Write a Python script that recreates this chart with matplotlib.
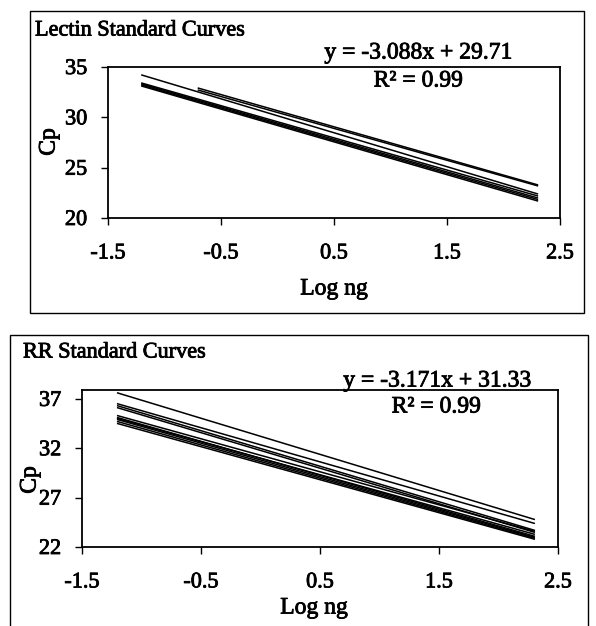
import matplotlib.pyplot as plt
import matplotlib.patheffects as pe
from matplotlib.patches import Rectangle

plt.rcParams["font.family"] = ["Liberation Serif", "DejaVu Serif"]

W, H = 596, 626

# Lectin standard curves: one line per run, Cp at first and last dilution
lectin_x_start = [-1.2, -0.7, -0.7, -1.2, -1.2, -1.2, -1.2]
lectin_x_end = [2.3, 2.3, 2.3, 2.3, 2.3, 2.3, 2.3]
lectin_cp_start = [34.2, 32.9, 32.7, 33.4, 33.3, 33.2, 33.1]
lectin_cp_end = [22.4, 23.3, 23.2, 22.2, 22.0, 21.85, 21.7]

# RR standard curves
rr_x_start = [-1.2] * 10
rr_x_end = [2.3] * 10
rr_cp_start = [37.6, 36.5, 36.3, 36.1, 35.3, 35.1, 35.0, 34.9, 34.7, 34.5]
rr_cp_end = [24.8, 24.4, 23.7, 23.5, 23.6, 23.1, 23.3, 23.0, 22.9, 22.8]

x_ticks = [-1.5, -0.5, 0.5, 1.5, 2.5]
lectin_y_ticks = [20, 25, 30, 35]
rr_y_ticks = [22, 27, 32, 37]

# thicken glyphs a little, printed-page look
heavy = [pe.withStroke(linewidth=0.6, foreground="black")]


def fx(px):
    return px / W


def fy(py):
    return 1 - py / H


def box(fig, x0, y0, x1, y1):
    fig.patches.append(Rectangle((fx(x0), fy(y1)), fx(x1 - x0), (y1 - y0) / H,
                                 transform=fig.transFigure, fill=False,
                                 edgecolor="black", linewidth=1.0))


def label(fig, x, y, s, size=16, **kw):
    fig.text(fx(x), fy(y), s, fontsize=size, va="center", path_effects=heavy, **kw)


def draw_panel(ax, xs, xe, ys, ye, yticks, ylim):
    for a, b, c, d in zip(xs, xe, ys, ye):
        ax.plot([a, b], [c, d], color="black", linewidth=1.1)
    ax.set_xlim(-1.5, 2.5)
    ax.set_ylim(*ylim)
    ax.set_xticks(x_ticks)
    ax.set_xticklabels([f"{t:g}" for t in x_ticks])
    ax.set_yticks(yticks)
    ax.tick_params(direction="out", length=5, width=1.0, labelsize=16)
    ax.tick_params(axis="x", pad=14)
    ax.tick_params(axis="y", pad=10)
    for t in ax.get_xticklabels() + ax.get_yticklabels():
        t.set_path_effects(heavy)
    for s in ax.spines.values():
        s.set_linewidth(1.3)


fig = plt.figure(figsize=(W / 100, H / 100), dpi=100)

# top panel
box(fig, 30, 11, 584, 313)
ax1 = fig.add_axes([fx(108), fy(218), fx(560 - 108), (218 - 67) / H])
draw_panel(ax1, lectin_x_start, lectin_x_end, lectin_cp_start, lectin_cp_end,
           lectin_y_ticks, (20, 35))
label(fig, 35, 31, "Lectin Standard Curves", size=16)
label(fig, 418, 53, "y = -3.088x + 29.71", size=17, ha="center")
label(fig, 418, 81, "R² = 0.99", size=17, ha="center")
label(fig, 334, 289, "Log ng", size=17, ha="center")
label(fig, 49, 142, "Cp", size=17, ha="center", rotation=90)

# bottom panel
box(fig, 10, 335, 588, 640)
ax2 = fig.add_axes([fx(82), fy(547), fx(558 - 82), (547 - 390) / H])
draw_panel(ax2, rr_x_start, rr_x_end, rr_cp_start, rr_cp_end,
           rr_y_ticks, (22, 37.9))
label(fig, 23, 353, "RR Standard Curves", size=16)
label(fig, 437, 381, "y = -3.171x + 31.33", size=17, ha="center")
label(fig, 436, 407, "R² = 0.99", size=17, ha="center")
label(fig, 314, 608, "Log ng", size=17, ha="center")
label(fig, 30, 480, "Cp", size=17, ha="center", rotation=90)

fig.savefig("out.png", dpi=100)
